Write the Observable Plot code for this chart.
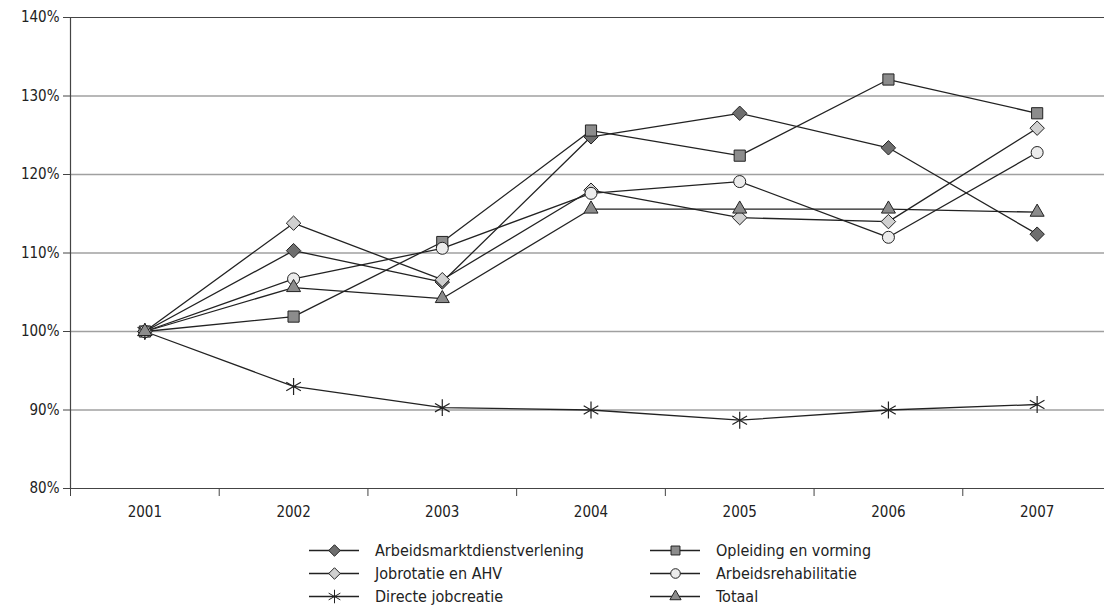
<!DOCTYPE html>
<html>
<head>
<meta charset="utf-8">
<script src="https://cdn.jsdelivr.net/npm/d3@7"></script>
<script src="https://cdn.jsdelivr.net/npm/@observablehq/plot@0.6"></script>
<style>
  html, body { margin: 0; padding: 0; background: #fff; }
  body { width: 1104px; height: 613px; overflow: hidden; font-family: "DejaVu Sans Condensed", "Open Sans", sans-serif; }
  #legend { position: relative; height: 90px; font-size: 16px; color: #222; }
  .item { position: absolute; display: flex; align-items: center; height: 20px; }
  .item svg { margin-right: 16px; }
</style>
</head>
<body>
<div id="chart"></div>
<div id="legend"></div>
<script>
const years = [2001, 2002, 2003, 2004, 2005, 2006, 2007];
const arbeidsmarkt = [100, 110.3, 106.3, 124.8, 127.8, 123.4, 112.4];
const opleiding = [100, 101.9, 111.4, 125.6, 122.4, 132.1, 127.8];
const jobrotatie = [100, 113.8, 106.6, 118.0, 114.5, 114.0, 125.9];
const rehabilitatie = [100, 106.7, 110.6, 117.6, 119.1, 112.0, 122.8];
const directe = [100, 93.0, 90.3, 90.0, 88.7, 90.0, 90.7];
const totaal = [100, 105.6, 104.2, 115.6, 115.6, 115.6, 115.2];
const yTicks = [80, 90, 100, 110, 120, 130, 140];

const seriesNames = ["Arbeidsmarktdienstverlening", "Opleiding en vorming", "Jobrotatie en AHV", "Arbeidsrehabilitatie", "Directe jobcreatie", "Totaal"];
const seriesValues = [arbeidsmarkt, opleiding, jobrotatie, rehabilitatie, directe, totaal];
const styles = {
  "Arbeidsmarktdienstverlening": {symbol: "diamond2", fill: "#6e6e6e", r: 6.5},
  "Opleiding en vorming": {symbol: "square", fill: "#8c8c8c", r: 6.3},
  "Jobrotatie en AHV": {symbol: "diamond2", fill: "#d0d0d0", r: 6.5},
  "Arbeidsrehabilitatie": {symbol: "circle", fill: "#ececec", r: 6},
  "Directe jobcreatie": {symbol: "asterisk", fill: "none", r: 8},
  "Totaal": {symbol: "triangle", fill: "#8c8c8c", r: 5.2}
};

const data = [];
seriesNames.forEach((name, i) => {
  years.forEach((yr, j) => data.push({series: name, year: yr, value: seriesValues[i][j]}));
});
const boundaries = [years[0] - 0.5, ...years.map(y => y + 0.5)];

const marks = [
  Plot.ruleY(yTicks.filter(t => t > 80 && t < 140), {stroke: "#a0a0a0", strokeWidth: 1.3}),
  Plot.ruleY([140], {stroke: "#444", strokeWidth: 1.2}),
  Plot.ruleY([80], {stroke: "#444", strokeWidth: 1.2}),
  Plot.axisY({ticks: yTicks, tickSize: 7, tickFormat: d => d + "%", tickPadding: 4, label: null, fontSize: 15, fill: "#222", stroke: "#444"}),
  Plot.ruleX([boundaries[0]], {stroke: "#444", strokeWidth: 1.2}),
  Plot.axisX({ticks: boundaries, tickSize: 8, tickFormat: () => "", label: null, stroke: "#444"}),
  Plot.axisX({ticks: years, tickSize: 0, tickFormat: d => String(d), tickPadding: 18, label: null, fontSize: 15, fill: "#222"})
];
seriesNames.forEach(name => {
  const d = data.filter(r => r.series === name);
  marks.push(Plot.line(d, {x: "year", y: "value", stroke: "#222", strokeWidth: 1.3}));
});
seriesNames.forEach(name => {
  const d = data.filter(r => r.series === name);
  const s = styles[name];
  marks.push(Plot.dot(d, {x: "year", y: "value", symbol: () => s.symbol, r: s.r, fill: s.fill, stroke: "#222", strokeWidth: s.symbol === "asterisk" ? 1.2 : 1}));
});

const chart = Plot.plot({
  width: 1104,
  height: 523,
  marginTop: 17,
  marginBottom: 35,
  marginLeft: 70,
  marginRight: 0,
  style: {fontFamily: '"DejaVu Sans Condensed", "Open Sans", sans-serif', fontSize: "15px", background: "#fff"},
  x: {type: "linear", domain: [boundaries[0], boundaries[boundaries.length - 1]], range: [70, 1111]},
  y: {domain: [80, 140]},
  symbol: {type: "identity"},
  marks
});
document.getElementById("chart").appendChild(chart);

// legend
const legend = document.getElementById("legend");
const order = [
  ["Arbeidsmarktdienstverlening", 0, 0], ["Opleiding en vorming", 1, 0],
  ["Jobrotatie en AHV", 0, 1], ["Arbeidsrehabilitatie", 1, 1],
  ["Directe jobcreatie", 0, 2], ["Totaal", 1, 2]
];
const colX = [309, 650];
order.forEach(([name, c, r]) => {
  const s = styles[name];
  const item = document.createElement("div");
  item.className = "item";
  item.style.left = colX[c] + "px";
  item.style.top = (17 + r * 23) + "px";
  const sw = Plot.plot({
    width: 50, height: 20, margin: 0,
    x: {domain: [0, 1], axis: null}, y: {domain: [0, 1], axis: null},
    symbol: {type: "identity"},
    marks: [
      Plot.ruleY([0.5], {x1: 0, x2: 1, stroke: "#222", strokeWidth: 1.3}),
      Plot.dot([0.5], {x: d => d, y: 0.5, symbol: () => s.symbol, r: s.r * 0.8, fill: s.fill, stroke: "#222", strokeWidth: 1})
    ]
  });
  item.appendChild(sw);
  const t = document.createElement("span");
  t.textContent = name;
  item.appendChild(t);
  legend.appendChild(item);
});
</script>
</body>
</html>
